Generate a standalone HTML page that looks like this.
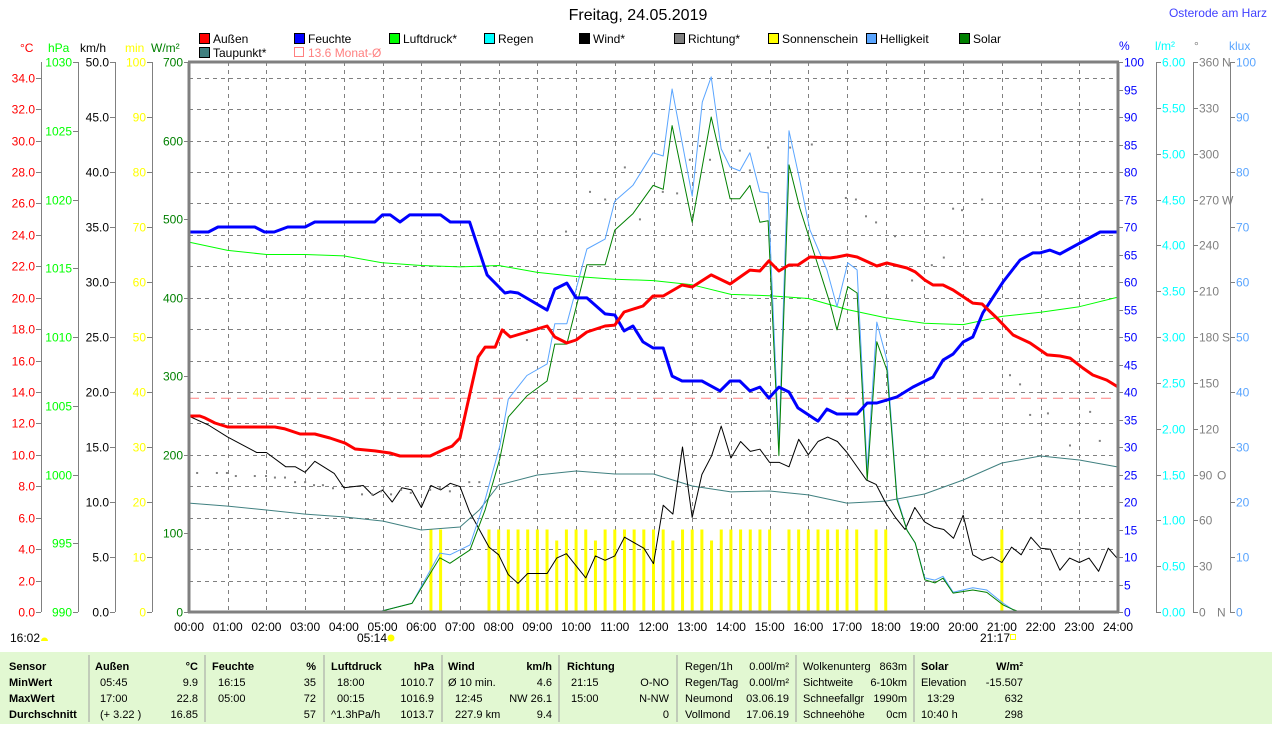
<!DOCTYPE html>
<html><head><meta charset="utf-8">
<style>
body{margin:0;background:#fff;width:1274px;height:724px;overflow:hidden}
svg text{font-family:"Liberation Sans",sans-serif;font-size:12px}
.b{font-weight:bold}
.tbl text{font-size:11px}
</style></head>
<body>
<svg id="c" width="1274" height="724" xmlns="http://www.w3.org/2000/svg">
<text x="638" y="20" text-anchor="middle" style="font-size:16px">Freitag, 24.05.2019</text>
<text x="1267" y="17" text-anchor="end" fill="#4040ff" style="font-size:12px">Osterode am Harz</text>
<g>
<g><rect x="199.5" y="33.5" width="10" height="10" fill="#ff0000" stroke="#000"/><text x="213" y="43">Außen</text></g>
<g><rect x="294.5" y="33.5" width="10" height="10" fill="#0000ff" stroke="#000"/><text x="308" y="43">Feuchte</text></g>
<g><rect x="389.5" y="33.5" width="10" height="10" fill="#00ff00" stroke="#000"/><text x="403" y="43">Luftdruck*</text></g>
<g><rect x="484.5" y="33.5" width="10" height="10" fill="#00ffff" stroke="#000"/><text x="498" y="43">Regen</text></g>
<g><rect x="579.5" y="33.5" width="10" height="10" fill="#000" stroke="#000"/><text x="593" y="43">Wind*</text></g>
<g><rect x="674.5" y="33.5" width="10" height="10" fill="#808080" stroke="#000"/><text x="688" y="43">Richtung*</text></g>
<g><rect x="768.5" y="33.5" width="10" height="10" fill="#ffff00" stroke="#000"/><text x="782" y="43">Sonnenschein</text></g>
<g><rect x="866.5" y="33.5" width="10" height="10" fill="#5aa5ff" stroke="#000"/><text x="880" y="43">Helligkeit</text></g>
<g><rect x="959.5" y="33.5" width="10" height="10" fill="#008000" stroke="#000"/><text x="973" y="43">Solar</text></g>
<g><rect x="199.5" y="47.5" width="10" height="10" fill="#408080" stroke="#000"/><text x="213" y="57">Taupunkt*</text></g>
<g><rect x="294.5" y="47.5" width="9" height="9" fill="none" stroke="#ff8080"/><text x="308" y="57" fill="#ff8080">13.6 Monat-Ø</text></g>
</g>
<g>
<text x="20" y="52" fill="#ff0000">°C</text>
<text x="48" y="52" fill="#00ff00">hPa</text>
<text x="80" y="52" fill="#000">km/h</text>
<text x="125" y="52" fill="#ffff00">min</text>
<text x="151" y="52" fill="#008000">W/m²</text>
<text x="1119" y="50" fill="#0000ff">%</text>
<text x="1155" y="50" fill="#00ffff">l/m²</text>
<text x="1194" y="50" fill="#808080">°</text>
<text x="1229" y="50" fill="#5aa5ff">klux</text>
</g>
<g>
<text x="10" y="642">16:02</text><path d="M41 641 a3.5 3.5 0 0 1 7 0 z" fill="#ffff00"/>
<text x="357" y="642">05:14</text><circle cx="391" cy="638" r="3.5" fill="#ffff00"/>
<text x="980" y="642">21:17</text><rect x="1010.5" y="634.5" width="5" height="5" fill="none" stroke="#ffff00"/>
</g>
<g class="tbl">
<rect x="0" y="652" width="1272" height="72" fill="#e2f8d2"/>
<g stroke="#a0a0a0"><line x1="89" y1="655" x2="89" y2="722"/><line x1="205" y1="655" x2="205" y2="722"/><line x1="324" y1="655" x2="324" y2="722"/><line x1="442" y1="655" x2="442" y2="722"/><line x1="559" y1="655" x2="559" y2="722"/><line x1="677" y1="655" x2="677" y2="722"/><line x1="796" y1="655" x2="796" y2="722"/><line x1="914" y1="655" x2="914" y2="722"/></g>
<g>
<text class="b" x="9" y="670">Sensor</text><text class="b" x="9" y="686">MinWert</text><text class="b" x="9" y="702">MaxWert</text><text class="b" x="9" y="718">Durchschnitt</text>
<text class="b" x="95" y="670">Außen</text><text class="b" x="198" y="670" text-anchor="end">°C</text>
<text x="100" y="686">05:45</text><text x="198" y="686" text-anchor="end">9.9</text>
<text x="100" y="702">17:00</text><text x="198" y="702" text-anchor="end">22.8</text>
<text x="100" y="718">(+ 3.22 )</text><text x="198" y="718" text-anchor="end">16.85</text>
<text class="b" x="212" y="670">Feuchte</text><text class="b" x="316" y="670" text-anchor="end">%</text>
<text x="218" y="686">16:15</text><text x="316" y="686" text-anchor="end">35</text>
<text x="218" y="702">05:00</text><text x="316" y="702" text-anchor="end">72</text>
<text x="316" y="718" text-anchor="end">57</text>
<text class="b" x="331" y="670">Luftdruck</text><text class="b" x="434" y="670" text-anchor="end">hPa</text>
<text x="337" y="686">18:00</text><text x="434" y="686" text-anchor="end">1010.7</text>
<text x="337" y="702">00:15</text><text x="434" y="702" text-anchor="end">1016.9</text>
<text x="331" y="718">^1.3hPa/h</text><text x="434" y="718" text-anchor="end">1013.7</text>
<text class="b" x="448" y="670">Wind</text><text class="b" x="552" y="670" text-anchor="end">km/h</text>
<text x="448" y="686">Ø 10 min.</text><text x="552" y="686" text-anchor="end">4.6</text>
<text x="455" y="702">12:45</text><text x="552" y="702" text-anchor="end">NW 26.1</text>
<text x="455" y="718">227.9 km</text><text x="552" y="718" text-anchor="end">9.4</text>
<text class="b" x="567" y="670">Richtung</text>
<text x="571" y="686">21:15</text><text x="669" y="686" text-anchor="end">O-NO</text>
<text x="571" y="702">15:00</text><text x="669" y="702" text-anchor="end">N-NW</text>
<text x="669" y="718" text-anchor="end">0</text>
<text x="685" y="670">Regen/1h</text><text x="789" y="670" text-anchor="end">0.00l/m²</text>
<text x="685" y="686">Regen/Tag</text><text x="789" y="686" text-anchor="end">0.00l/m²</text>
<text x="685" y="702">Neumond</text><text x="789" y="702" text-anchor="end">03.06.19</text>
<text x="685" y="718">Vollmond</text><text x="789" y="718" text-anchor="end">17.06.19</text>
<text x="803" y="670">Wolkenunterg</text><text x="907" y="670" text-anchor="end">863m</text>
<text x="803" y="686">Sichtweite</text><text x="907" y="686" text-anchor="end">6-10km</text>
<text x="803" y="702">Schneefallgr</text><text x="907" y="702" text-anchor="end">1990m</text>
<text x="803" y="718">Schneehöhe</text><text x="907" y="718" text-anchor="end">0cm</text>
<text class="b" x="921" y="670">Solar</text><text class="b" x="1023" y="670" text-anchor="end">W/m²</text>
<text x="921" y="686">Elevation</text><text x="1023" y="686" text-anchor="end">-15.507</text>
<text x="927" y="702">13:29</text><text x="1023" y="702" text-anchor="end">632</text>
<text x="921" y="718">10:40 h</text><text x="1023" y="718" text-anchor="end">298</text>
</g>
</g>
</svg>
<script>
const tempTimes=[0,0.28,0.41,0.67,1.0,2.22,2.48,2.87,3.25,3.64,4.03,4.29,4.8,5.19,5.45,6.23,6.61,6.8,7.0,7.18,7.47,7.65,7.91,8.09,8.3,9.25,9.45,9.76,10.0,10.28,10.75,11.0,11.24,11.73,11.99,12.25,12.74,13.0,13.49,13.98,14.49,14.75,14.98,15.24,15.5,15.73,16.04,16.56,16.74,17.0,17.26,17.77,18.03,18.55,18.76,19.01,19.22,19.48,19.74,20.25,20.49,20.87,21.29,21.73,22.17,22.5,22.76,23.09,23.35,23.71,24];
const tempValues=[12.47,12.47,12.35,12.03,11.77,11.77,11.65,11.33,11.33,11.07,10.75,10.37,10.25,10.12,9.93,9.93,10.37,10.56,11.07,13.05,16.23,16.86,16.86,17.95,17.5,18.2,17.5,17.12,17.31,17.82,18.2,18.26,19.09,19.47,20.11,20.11,20.81,20.68,21.45,20.87,21.76,21.7,22.34,21.7,22.08,22.08,22.59,22.53,22.59,22.72,22.59,22.02,22.21,21.89,21.64,21.13,20.81,20.81,20.49,19.66,19.6,18.71,17.63,17.12,16.36,16.29,16.16,15.53,15.08,14.76,14.32];
const humTimes=[0,0.5,0.75,1.7,1.95,2.2,2.55,3.0,3.25,4.8,5.0,5.2,5.45,5.7,6.5,6.75,7.25,7.7,8.16,8.3,8.5,9.25,9.45,9.76,10.0,10.28,10.75,11.0,11.24,11.47,11.73,11.99,12.25,12.48,12.74,13.25,13.72,13.98,14.23,14.49,14.75,14.98,15.24,15.5,15.73,16.25,16.48,16.74,17.26,17.52,17.77,18.29,18.7,19.22,19.48,19.74,20.0,20.25,20.51,21.03,21.47,21.8,21.98,22.24,22.5,23.54,24];
const humValues=[69.1,69.1,70.0,70.0,69.1,69.1,70.0,70.0,70.9,70.9,72.2,72.2,70.9,72.2,72.2,70.9,70.9,61.3,58.0,58.2,58.0,54.9,58.7,59.8,57.1,57.1,54.2,54.0,51.1,52.0,49.1,48.0,48.0,42.9,42.0,42.0,40.2,42.0,42.0,40.2,40.9,38.9,40.9,40.0,37.1,34.7,36.9,36.0,36.0,38.0,38.0,39.1,40.9,42.7,45.8,46.9,49.1,50.0,54.4,60.0,64.0,65.3,65.3,65.8,65.1,69.1,69.1];
const pressHours=[0,1,2,3,4,5,6,7,8,9,10,11,12,13,14,15,16,17,18,19,20,21,22,23,24];
const pressValues=[1016.9,1016.3,1016.0,1016.0,1015.9,1015.4,1015.2,1015.1,1015.2,1014.7,1014.4,1014.2,1014.1,1013.8,1013.1,1013.0,1012.8,1012.0,1011.4,1011.0,1010.9,1011.5,1011.8,1012.2,1012.9];
const dewHours=[0,1,2,3,4,5,6,7,7.5,8,9,10,11,12,13,14,15,16,17,18,19,20,21,22,23,24];
const dewValues=[6.93,6.74,6.49,6.23,6.05,5.79,5.22,5.41,6.49,8.08,8.72,8.97,8.78,8.78,8.02,7.64,7.70,7.45,6.93,7.06,7.51,8.40,9.48,9.93,9.67,9.23];
const windQuarters=[0,2,4,7,8,10,11,12,13,15,16,18,19,20,21,22,23,24,25,26,27,28,29,31,32,33,34,35,37,38,39,41,42,43,44,45,47,48,49,50,51,52,53,54,55,56,57,58,59,60,61,62,63,64,65,66,67,68,70,71,72,73,74,75,76,77,78,79,80,81,82,83,84,85,86,87,88,89,90,91,92,93,94,95,96];
const windValues=[17.8,17.0,15.9,14.5,14.5,13.2,13.2,12.7,13.7,12.6,11.3,11.5,10.6,11.1,10.0,11.3,11.1,9.5,11.5,11.1,11.7,11.4,9.1,5.9,5.2,3.4,2.6,3.5,3.5,4.9,5.3,3.1,5.1,4.7,5.1,6.8,5.8,4.4,9.7,8.9,15.0,8.6,12.5,14.2,16.9,14.0,15.5,14.6,14.8,13.6,13.6,13.2,15.7,14.3,15.5,15.9,15.5,14.5,12.0,11.6,9.9,8.6,7.5,9.5,8.2,7.7,7.5,6.7,8.8,5.2,4.7,5.0,4.5,5.9,5.2,6.8,5.8,5.7,3.8,4.9,4.5,4.9,3.7,5.8,4.8];
const dirTimes=[0.21,0.72,0.98,1.21,1.70,1.99,2.22,2.48,2.74,3.00,3.23,3.46,3.72,4.47,4.73,4.96,5.22,5.48,5.73,6.23,6.48,6.74,7.24,7.50,8.73,9.74,10.36,10.75,11.26,11.65,12.24,12.61,12.94,13.20,13.46,14.23,14.49,14.96,15.53,16.09,16.97,17.23,17.49,17.75,18.24,18.68,19.19,19.50,19.74,19.97,20.49,21.21,21.47,21.73,22.19,22.76,23.28,23.53];
const dirValues=[91,91,91,89,89,89,88,88,85,85,83,83,81,77,77,79,77,80,78,80,81,79,85,85,178,249,275,270,291,257,275,274,296,305,296,302,289,304,304,306,271,270,259,255,246,217,227,232,264,263,270,155,149,129,130,109,131,112];
const sunQuarters=[25,26,31,32,33,34,35,36,37,38,39,40,41,42,43,44,45,46,47,48,49,50,51,52,53,54,55,56,57,58,59,60,62,63,64,65,66,67,68,69,71,72,84];
const sunMinutes=[15,15,15,15,15,15,15,15,15,13,15,15,15,13,15,15,15,15,15,15,15,13,15,15,15,13,15,15,15,15,15,15,15,15,15,15,15,15,15,15,15,15,15];
const solarTimes=[4.88,5.76,6.48,6.74,7.26,7.65,8.03,8.25,8.73,9.25,9.45,9.76,10.28,10.75,11.0,11.47,11.99,12.25,12.48,13.0,13.49,13.98,14.23,14.49,14.75,14.96,15.24,15.5,15.78,16.56,16.74,17.02,17.26,17.52,17.77,18.03,18.29,18.55,18.76,19.01,19.27,19.48,19.74,20.25,20.61,21.03,21.29,21.47];
const solarValues=[0,11,69,62,79,130,195,248,275,294,341,341,442,442,486,507,543,538,619,496,630,526,526,543,496,498,199,569,514,393,359,414,406,168,344,308,143,104,88,41,37,43,24,28,25,9,3,0];
const luxTimes=[4.88,5.76,6.48,6.74,7.26,7.65,8.03,8.25,8.73,9.25,9.45,9.76,10.28,10.75,11.0,11.47,11.99,12.25,12.48,13.0,13.26,13.49,13.75,13.98,14.23,14.49,14.75,14.96,15.24,15.5,15.78,16.04,16.48,16.74,17.02,17.26,17.52,17.77,18.03,18.29,18.55,18.76,19.01,19.27,19.48,19.74,20.25,20.61,21.03,21.29,21.47];
const luxValues=[0,1.6,10.7,10.4,12.2,20.4,30.2,38.7,43,45.1,52.4,52.4,66,67.8,74.7,77.6,83.5,82.9,95.1,75.6,92.7,97.3,84.2,80.9,80.2,83.5,76.4,76.2,30.4,87.5,78.5,69.5,62.2,55.5,63.5,62.2,25.8,52.7,45.8,20.9,14.9,12.5,6.2,5.8,6.5,3.6,4.4,4,1.6,0.4,0];
const monthAvg=13.6;
const hourLabels=["00:00","01:00","02:00","03:00","04:00","05:00","06:00","07:00","08:00","09:00","10:00","11:00","12:00","13:00","14:00","15:00","16:00","17:00","18:00","19:00","20:00","21:00","22:00","23:00","24:00"];

const NS='http://www.w3.org/2000/svg';
const svg=document.getElementById('c');
function mk(tag,a,p){const e=document.createElementNS(NS,tag);for(const k in a)e.setAttribute(k,a[k]);(p||svg).appendChild(e);return e;}
function X(h){return 189+h*929/24;}
function Yc(v){return 612-v*550/35;}
function Yp(v){return 612-(v-990)*550/40;}
function Yw(v){return 612-v*11;}
function Ym(v){return 612-v*5.5;}
function Ys(v){return 612-v*550/700;}
function Yh(v){return 612-v*5.5;}
function Yk(v){return 612-v*5.5;}
function Yd(v){return 612-v*550/360;}
function Yr(v){return 612-v*550/6;}

const grid=mk('g',{stroke:'#808080','stroke-dasharray':'4,4','stroke-width':1});


for(let k=1;k<=17;k++){const y=Math.round(Yc(k*2))+0.5;mk('line',{x1:189,x2:1118,y1:y,y2:y},grid);}
for(let h=1;h<24;h++){const x=Math.round(X(h))+0.5;mk('line',{x1:x,x2:x,y1:62,y2:612},grid);}

function axis(name,lineX,vals,yf,fmt,color,side){
  const g=mk('g',{});
  
  
  mk('line',{x1:lineX+0.5,x2:lineX+0.5,y1:62,y2:612,stroke:'#808080'},g);
  vals.forEach(v=>{
    const y=Math.round(yf(v))+0.5;
    if(side==='l'){mk('line',{x1:lineX-5,x2:lineX,y1:y,y2:y,stroke:'#808080'},g);
      const t=mk('text',{x:lineX-6,y:y+4,'text-anchor':'end',fill:color},g);t.textContent=fmt(v);}
    else{mk('line',{x1:lineX,x2:lineX+5,y1:y,y2:y,stroke:'#808080'},g);
      const t=mk('text',{x:lineX+6,y:y+4,fill:color},g);t.textContent=fmt(v);}
  });
  return g;
}
function rng(a,b,s){const r=[];for(let v=a;v<=b+1e-9;v+=s)r.push(+v.toFixed(3));return r;}
axis('temp-axis',41,rng(0,34,2),Yc,v=>v.toFixed(1),'#ff0000','l');
axis('pressure-axis',78,rng(990,1030,5),Yp,v=>String(v),'#00ff00','l');
axis('wind-axis',115,rng(0,50,5),Yw,v=>v.toFixed(1),'#000000','l');
axis('sunshine-axis',152,rng(0,100,10),Ym,v=>String(v),'#ffff00','l');
axis('solar-axis',189,rng(0,700,100),Ys,v=>String(v),'#008000','l');
axis('humidity-axis',1118,rng(0,100,5),Yh,v=>String(v),'#0000ff','r');
axis('rain-axis',1156,rng(0,6,0.5),Yr,v=>v.toFixed(2),'#00ffff','r');
const dirAx=axis('direction-axis',1193,rng(0,360,30),Yd,v=>String(v),'#808080','r');
[[360,'N',1222],[270,'W',1222],[180,'S',1222],[90,'O',1217],[0,'N',1217]].forEach(d=>{const t=mk('text',{x:d[2],y:Math.round(Yd(d[0]))+4.5,fill:'#808080'},dirAx);t.textContent=d[1];});
axis('brightness-axis',1230,rng(0,100,10),Yk,v=>String(v),'#5aa5ff','r');

hourLabels.forEach((l,i)=>{const t=mk('text',{x:X(i),y:631,'text-anchor':'middle'});


t.textContent=l;});

const ma=mk('line',{x1:189,x2:1118,y1:Yc(monthAvg),y2:Yc(monthAvg),stroke:'#ff8080','stroke-dasharray':'10,6'});



sunQuarters.forEach((q,i)=>{const x=X(q/4);const y=Ym(sunMinutes[i]);
const r=mk('rect',{x:x-1.5,y:y,width:3,height:612-y,fill:'#ffff00'});

});

function series(name,times,vals,yf,color,w){
  const pts=times.map((t,i)=>X(t).toFixed(1)+','+yf(vals[i]).toFixed(1)).join(' ');
  const p=mk('polyline',{points:pts,fill:'none',stroke:color,'stroke-width':w,'stroke-linejoin':'round'});
  
  
}
series('dewpoint-line',dewHours,dewValues,Yc,'#408080',1);
series('pressure-line',pressHours,pressValues,Yp,'#00ff00',1);
series('wind-line',windQuarters.map(q=>q/4),windValues,Yw,'#000000',1);
dirTimes.forEach((t,i)=>{const r=mk('rect',{x:X(t)-1,y:Yd(dirValues[i])-1,width:2,height:2,fill:'#808080'});

});
series('brightness-line',luxTimes,luxValues,Yk,'#5aa5ff',1);
series('solar-line',solarTimes,solarValues,Ys,'#008000',1);
series('humidity-line',humTimes,humValues,Yh,'#0000ff',3);
series('temperature-line',tempTimes,tempValues,Yc,'#ff0000',3);

const fr=mk('g',{stroke:'#808080','stroke-width':3,fill:'none'});


mk('line',{x1:188,x2:1119,y1:62,y2:62},fr);
mk('line',{x1:188,x2:1119,y1:612,y2:612},fr);
mk('line',{x1:189,x2:189,y1:62,y2:612},fr);
mk('line',{x1:1118,x2:1118,y1:62,y2:612},fr);
</script>
</body></html>
